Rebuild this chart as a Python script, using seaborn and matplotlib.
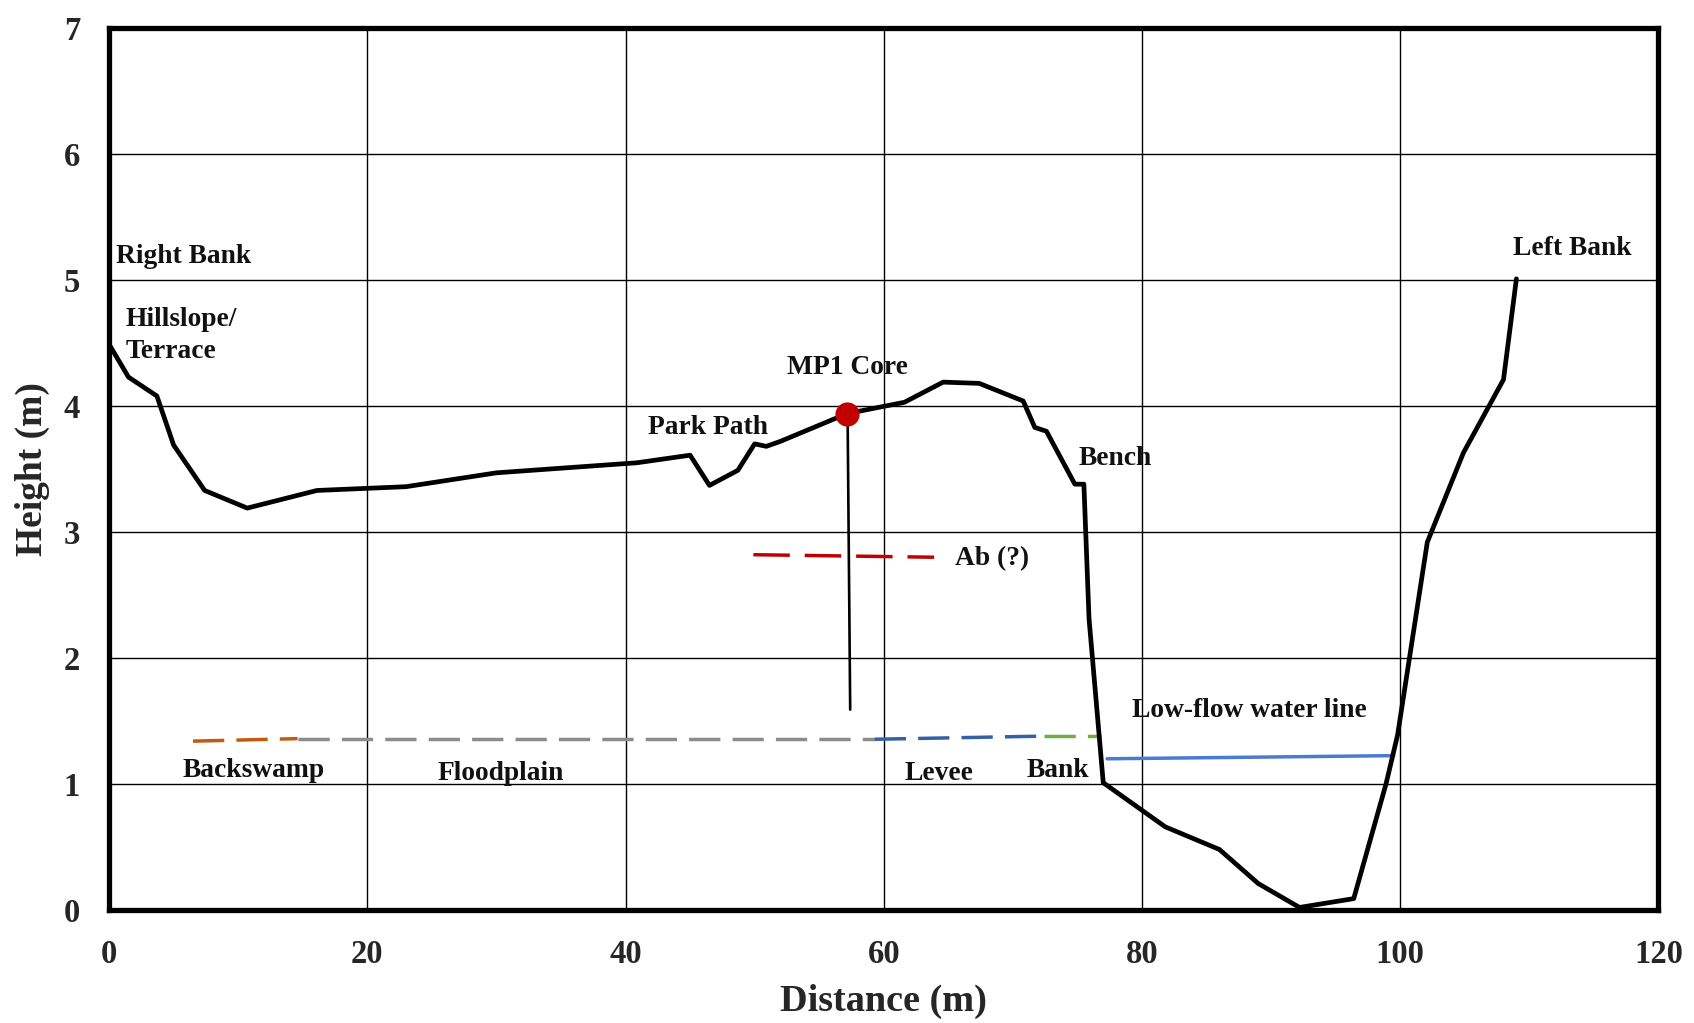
import pandas as pd
import seaborn as sns
import matplotlib.pyplot as plt

# cross-section profile, distance (m) vs height (m)
profile_x = [0, 1.5, 3.7, 5.0, 7.4, 10.7, 16.1, 23.0, 30.0, 40.9, 45.0, 46.5, 48.7, 50.0,
             50.9, 52.0, 57.15, 61.6, 64.6, 67.4, 70.8, 71.7, 72.6, 74.8, 75.5, 75.9, 77.0,
             81.8, 86.0, 89.0, 92.2, 96.4, 98.9, 99.8, 102.1, 104.9, 108.0, 109.0]
profile_y = [4.49, 4.23, 4.08, 3.69, 3.33, 3.19, 3.33, 3.36, 3.47, 3.55, 3.61, 3.37, 3.49, 3.70,
             3.68, 3.72, 3.94, 4.03, 4.19, 4.18, 4.04, 3.83, 3.80, 3.38, 3.38, 2.31, 1.01,
             0.66, 0.48, 0.21, 0.02, 0.09, 1.00, 1.39, 2.92, 3.63, 4.21, 5.01]

# MP1 core location and its depth line
core_x = [57.15]
core_y = [3.94]
core_line_x = [57.2, 57.4]
core_line_y = [3.92, 1.59]

# dashed unit lines
ab_x, ab_y = [49.9, 63.9], [2.82, 2.80]
backswamp_x, backswamp_y = [6.5, 14.6], [1.34, 1.36]
floodplain_x, floodplain_y = [14.6, 59.3], [1.36, 1.36]
levee_x, levee_y = [59.3, 72.4], [1.355, 1.38]
bank_x, bank_y = [72.4, 76.8], [1.38, 1.38]
lowflow_x, lowflow_y = [77.3, 99.5], [1.20, 1.225]

# annotations: text, x, y, horizontal alignment
labels = [
    ("Right Bank", 0.5, 5.19, "left"),
    ("Hillslope/\nTerrace", 1.3, 4.56, "left"),
    ("MP1 Core", 57.2, 4.31, "center"),
    ("Park Path", 46.4, 3.83, "center"),
    ("Bench", 75.1, 3.58, "left"),
    ("Ab (?)", 65.5, 2.79, "left"),
    ("Low-flow water line", 79.2, 1.58, "left"),
    ("Backswamp", 11.2, 1.11, "center"),
    ("Floodplain", 30.3, 1.08, "center"),
    ("Levee", 64.3, 1.08, "center"),
    ("Bank", 73.5, 1.11, "center"),
    ("Left Bank", 113.3, 5.25, "center"),
]

sns.set_style("white")
plt.rcParams['font.family'] = ['Liberation Serif', 'DejaVu Serif']
plt.rcParams['font.weight'] = 'bold'

fig = plt.figure(figsize=(16.94, 10.23), dpi=100)
ax = fig.add_axes([0.0644, 0.1105, 0.9146, 0.862])

profile = pd.DataFrame({"x": profile_x, "y": profile_y})
sns.lineplot(data=profile, x="x", y="y", sort=False, color="black", lw=3.4, ax=ax, zorder=4)

dash = (0, (9, 3.5))
segments = [
    (backswamp_x, backswamp_y, "#C65911"),
    (floodplain_x, floodplain_y, "#8C8C8C"),
    (levee_x, levee_y, "#3560A8"),
    (bank_x, bank_y, "#70AD47"),
]
for sx, sy, col in segments:
    sns.lineplot(x=sx, y=sy, color=col, lw=2.5, linestyle=dash, ax=ax, zorder=3)

sns.lineplot(x=ab_x, y=ab_y, color="#C00000", lw=2.5, linestyle=(0, (10.5, 4.3)), ax=ax, zorder=3)
sns.lineplot(x=lowflow_x, y=lowflow_y, color="#4A7BD0", lw=2.5, ax=ax, zorder=3)
sns.lineplot(x=core_line_x, y=core_line_y, color="black", lw=1.9, ax=ax, zorder=4)
sns.scatterplot(x=core_x, y=core_y, color="#C00000", s=260, edgecolor="#C00000", ax=ax, zorder=5)

for txt, tx, ty, ha in labels:
    ax.text(tx, ty, txt, ha=ha, va="center", fontsize=19.8, fontweight="bold",
            color="#111111", zorder=6, linespacing=1.4)

ax.set_xlim(0, 120)
ax.set_ylim(0, 7)
ax.set_xticks(range(0, 121, 20))
ax.set_yticks(range(0, 8))
ax.grid(True, color="black", lw=1.0)
ax.set_axisbelow(True)
for sp in ax.spines.values():
    sp.set_visible(True)
    sp.set_color("black")
    sp.set_linewidth(3.8)
    sp.set_zorder(7)
ax.tick_params(axis="both", length=0, labelsize=23.5, pad=21)
for lab in ax.get_xticklabels() + ax.get_yticklabels():
    lab.set_fontweight("bold")
ax.set_xlabel("Distance (m)", fontsize=27.5, fontweight="bold", labelpad=10)
ax.set_ylabel("Height (m)", fontsize=27, fontweight="bold", labelpad=10)

fig.savefig("out.png", dpi=100)
